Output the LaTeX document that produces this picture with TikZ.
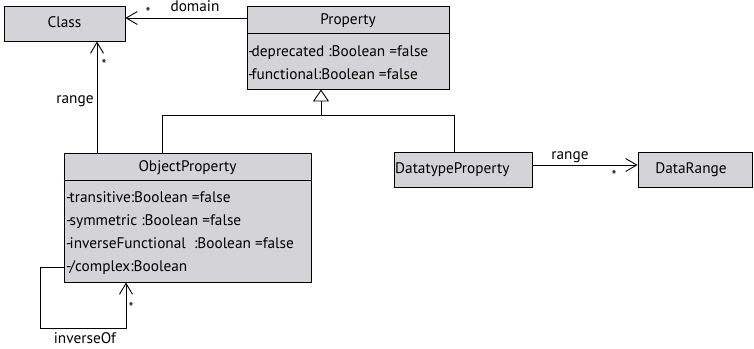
\documentclass[tikz,border=0pt]{standalone}
\usepackage{fontspec}
\setmainfont{PT Sans}
\usetikzlibrary{arrows.meta}
\definecolor{boxfill}{RGB}{212,212,216}
\tikzset{
  umlbox/.style={draw=black, fill=boxfill, line width=0.9pt, inner sep=0pt, anchor=center},
  lbl/.style={inner sep=0pt, text height=11pt, text depth=3pt, font=\fontsize{15.3}{17}\selectfont},
  attr/.style={lbl, anchor=west},
  assoc/.style={line width=0.9pt, -{Straight Barb[length=11pt,width=13pt,line width=0.9pt]}},
  gen/.style={line width=0.9pt},
  genhead/.style={line width=0.9pt, -{Triangle[open,length=12pt,width=16pt,line width=0.9pt,fill=white]}},
  mult/.style={inner sep=0pt, font=\fontsize{14}{14}\selectfont},
}
\begin{document}
\begin{tikzpicture}[x=1pt,y=-1pt]
\useasboundingbox (0,0) rectangle (754,348);
% boxes
\node[umlbox, minimum width=121pt, minimum height=35pt] (class) at (64.5,23.5) {};
\node[lbl] (classt) at (class.center) {Class};

\node[umlbox, minimum width=202pt, minimum height=83pt] (prop) at (348,47.5) {};
\coordinate (prophl) at (0,33);
\draw[line width=0.9pt] (prop.west |- prophl) -- (prop.east |- prophl);
\node[lbl] (propt) at (348,20) {Property};
\node[attr] (pa1) at (248,52) {-\kern-2pt deprecated :Boolean =false};
\node[attr] (pa2) at (248,75) {-\kern-2pt functional:Boolean =false};

\node[umlbox, minimum width=247pt, minimum height=129pt] (obj) at (187.5,217.5) {};
\coordinate (objhl) at (0,180);
\draw[line width=0.9pt] (obj.west |- objhl) -- (obj.east |- objhl);
\node[lbl] (objt) at (187.5,167) {ObjectProperty};
\node[attr] (oa1) at (66,198) {-\kern-2pt transitive:Boolean =false};
\node[attr] (oa2) at (66,221) {-\kern-2pt symmetric :Boolean =false};
\node[attr] (oa3) at (66,244) {-\kern-2pt inverseFunctional \ :Boolean =false};
\node[attr] (oa4) at (66,267) {-\kern-2pt /complex:Boolean};

\node[umlbox, minimum width=138pt, minimum height=35pt] (dtp) at (463,169.5) {};
\node[attr] (dtpt) at (395,169.5) {DatatypeProperty};

\node[umlbox, minimum width=114pt, minimum height=35pt] (dr) at (695,169.5) {};
\node[lbl] (drt) at (691,169.5) {DataRange};

% domain
\coordinate (domy) at (0,18);
\draw[assoc] (prop.west |- domy) -- (class.east |- domy);
\node[lbl] (domt) at (195,8) {domain};
\node[mult] (domm) at (148,12) {*};

% range to Class
\coordinate (rgx) at (97,0);
\draw[assoc] (obj.north -| rgx) -- (class.south -| rgx);
\node[lbl] (rgt) at (75,99) {range};
\node[mult] (rgm) at (104,64) {*};

% generalization
\coordinate (gy) at (0,115);
\coordinate (gox) at (162,0);
\coordinate (gdx) at (454,0);
\coordinate (gpx) at (321,0);
\draw[gen] (obj.north -| gox) -- (gox |- gy) -- (gdx |- gy) -- (dtp.north -| gdx);
\draw[genhead] (gpx |- gy) -- (prop.south -| gpx);

% range to DataRange
\coordinate (dry) at (0,165);
\draw[assoc] (dtp.east |- dry) -- (dr.west |- dry);
\node[lbl] (drl) at (570,155) {range};
\node[mult] (drm) at (614,175) {*};

% inverseOf
\coordinate (ly) at (0,267);
\coordinate (lx) at (40,328);
\coordinate (lex) at (126,0);
\draw[assoc] (obj.west |- ly) -- (lx |- ly) -- (lx) -- (lex |- lx) -- (obj.south -| lex);
\node[lbl] (invt) at (85,339) {inverseOf};
\node[mult] (invm) at (131,307) {*};
\end{tikzpicture}
\end{document}
